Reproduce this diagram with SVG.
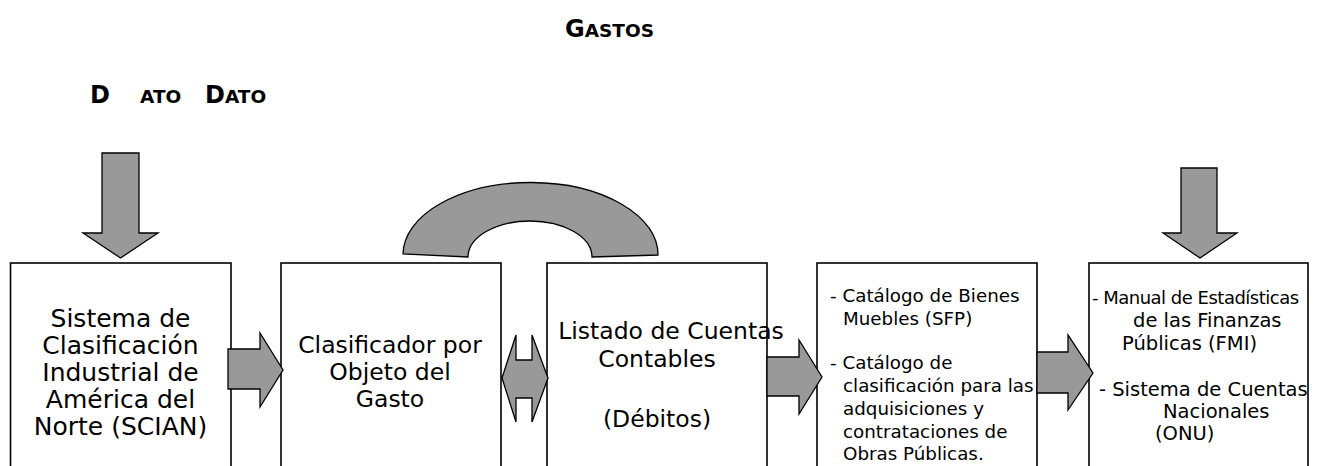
<svg xmlns="http://www.w3.org/2000/svg" width="1317" height="466" viewBox="0 0 1317 466">
<style>
.box{fill:#fff;stroke:#000;stroke-width:1.6}
.arr{fill:#999;stroke:#000;stroke-width:1.3;stroke-linejoin:miter}
.t{font-family:"Century Gothic","DejaVu Sans",sans-serif;fill:#000}
.big{font-size:23.5px;text-anchor:middle}
.b1{font-size:25px;text-anchor:middle}
.m4{font-size:18.3px}
.m5{font-size:19.5px}
.h{font-family:"Century Gothic","DejaVu Sans",sans-serif;font-weight:bold;fill:#000}
.cap{font-size:24px}
.sc{font-size:18.5px}
.g{fill:#aaa}
</style>
<rect width="1317" height="466" fill="#fff"/>
<text class="h" x="565" y="37"><tspan class="cap">G</tspan><tspan class="sc">ASTOS</tspan></text>
<text class="h" x="90" y="103"><tspan class="cap">D</tspan></text>
<text class="h" x="140" y="103"><tspan class="sc">ATO</tspan></text>
<text class="h" x="205" y="103"><tspan class="cap">D</tspan><tspan class="sc">ATO</tspan></text>
<g id="n1">
<rect class="box" x="10.5" y="263" width="220.5" height="210"/>
<text class="t b1"><tspan x="120.5" y="327">Sistema de</tspan><tspan x="120.5" y="354">Clasificación</tspan><tspan x="120.5" y="381">Industrial de</tspan><tspan x="120.5" y="408">América del</tspan><tspan x="120.5" y="435">Norte (SCIAN)</tspan></text>
</g>
<g id="n2">
<rect class="box" x="281" y="263" width="220" height="210"/>
<text class="t big"><tspan x="390" y="353">Clasificador por</tspan><tspan x="390" y="380">Objeto del</tspan><tspan x="390" y="407">Gasto</tspan></text>
</g>
<g id="n3">
<rect class="box" x="547" y="263" width="220" height="210"/>
<text class="t big"><tspan x="671" y="339">Listado de Cuentas</tspan><tspan x="657" y="367">Contables</tspan><tspan x="657" y="427">(Débitos)</tspan></text>
</g>
<g id="n4">
<rect class="box" x="817" y="263" width="220" height="210"/>
<text class="t m4"><tspan x="830" y="302">- Catálogo de Bienes</tspan><tspan x="843" y="325">Muebles (SFP)</tspan><tspan x="830" y="369">- Catálogo de</tspan><tspan x="843" y="392">clasificación para las</tspan><tspan x="843" y="415">adquisiciones y</tspan><tspan x="843" y="438">contrataciones de</tspan><tspan x="843" y="460">Obras Públicas.</tspan></text>
</g>
<g id="n5">
<rect class="box" x="1089" y="263" width="219" height="210"/>
<text class="t" x="1092" y="304" style="font-size:18px;letter-spacing:-0.5px">- Manual de Estadísticas</text>
<text class="t m5"><tspan x="1133" y="327">de las Finanzas</tspan><tspan x="1122" y="350">Públicas (FMI)</tspan><tspan x="1099" y="396">- Sistema de Cuentas</tspan><tspan x="1163" y="418">Nacionales</tspan><tspan x="1155" y="440">(ONU)</tspan></text>
</g>
<g id="connectors">
<path class="arr" d="M102,153 H139 V233 H158 L120.5,258 L83,233 H102 Z"/>
<path class="arr" d="M1181,168 H1217 V233 H1237 L1200,258 L1163,233 H1181 Z"/>
<path class="arr" d="M228,349 H260 V333 L283,370 L260,407 V389 H228 Z"/>
<path class="arr" d="M502,378 L516,335 V360 H532 V335 L548,378 L532,422 V398 H516 V422 Z"/>
<path class="arr" d="M767,357 H799 V340 L822,377 L799,414 V396 H767 Z"/>
<path class="arr" d="M1037,352 H1068 V335 L1093,373 L1068,410 V393 H1037 Z"/>
<path class="arr" d="M403,254 A127.5,72 0 0 1 658,255 L592,257 A62,36 0 0 0 468,257 Z"/>
</g>
</svg>
